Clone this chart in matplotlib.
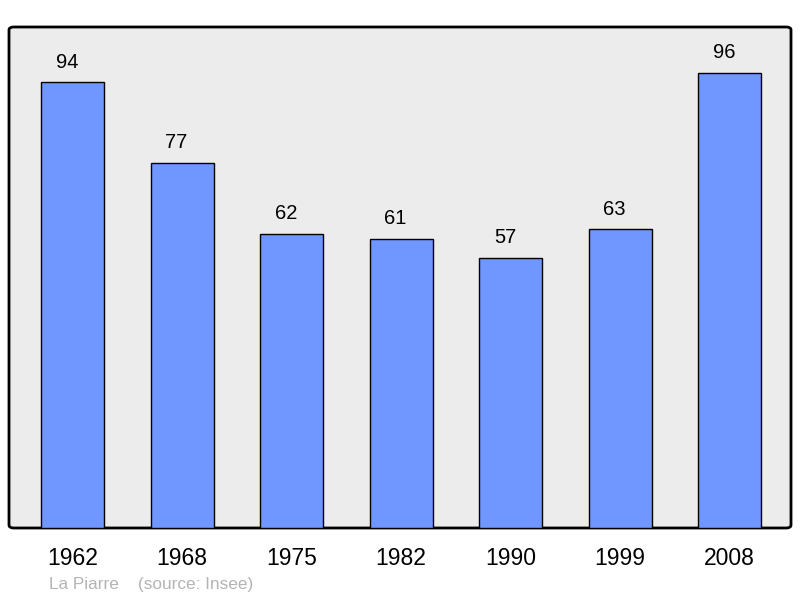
import matplotlib
matplotlib.use("Agg")
import matplotlib.pyplot as plt
from matplotlib.patches import FancyBboxPatch

years = ["1962", "1968", "1975", "1982", "1990", "1999", "2008"]
values = [94, 77, 62, 61, 57, 63, 96]

plt.rcParams['font.family'] = ['Liberation Sans', 'DejaVu Sans']

fig = plt.figure(figsize=(8, 5.98), dpi=100)
ax = fig.add_axes([9/800, 70/598, 782/800, 501/598])
ax.set_facecolor('none')
for s in ax.spines.values():
    s.set_visible(False)

frame = FancyBboxPatch((0, 0), 1, 1, boxstyle="round,pad=0,rounding_size=0.006",
                       transform=ax.transAxes, facecolor='#ececec', edgecolor='black',
                       linewidth=2, zorder=0, clip_on=False)
ax.add_patch(frame)

x = list(range(len(years)))
bars = ax.bar(x, values, width=0.575, color='#7097ff', edgecolor='black', linewidth=1, zorder=2)
for xi, v in zip(x, values):
    ax.annotate(str(v), (xi, v), xytext=(-4, 14.5), textcoords='offset points',
                ha='center', va='center', fontsize=14.5, color='black')

ax.set_xlim(-0.58, 6.56)
ax.set_ylim(0, 105.7)
ax.set_yticks([])
ax.set_xticks(x)
ax.set_xticklabels(years, fontsize=16.5)
ax.tick_params(axis='x', length=0, pad=13.5)

fig.text(49/800, 1 - 584/598, "La Piarre    (source: Insee)", fontsize=12.4, color='#b4b4b4',
         ha='left', va='center')

fig.savefig("out.png", dpi=100)
